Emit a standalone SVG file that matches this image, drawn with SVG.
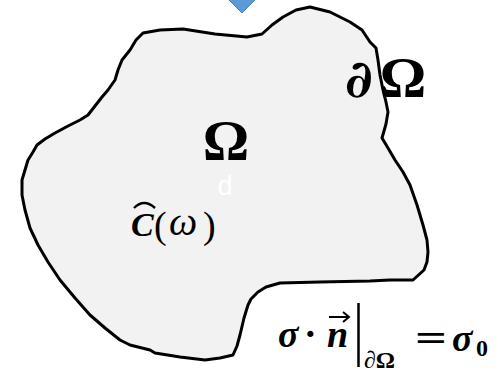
<svg xmlns="http://www.w3.org/2000/svg" width="498" height="373" viewBox="0 0 498 373">
<style>
.m{font-family:"Liberation Serif","DejaVu Serif",serif;fill:#000;font-weight:bold}
.d{font-family:"DejaVu Serif","Liberation Serif",serif;fill:#000;font-weight:bold}
.i{font-style:italic}
.p{font-family:"Liberation Serif","DejaVu Serif",serif;fill:#000}
</style>
<rect width="498" height="373" fill="#fff"/>
<g id="arrow-top"><polygon points="242,-15 256,-1 242,13 228,-1" fill="#5b9bd5" stroke="#4a86c0" stroke-width="1"/></g>
<g id="domain">
<path d="M143,33 L160,30 L183,29 L215,34 L247,37 L262,34 L272,25 L283,17 L296,10 L310,7 L330,12 L350,22 L362,30 L370,42 L376,48 L378,60 L380,75 L383,90 L386,102 L388,112 L386,124 L382,138 L388,148 L395,160 L403,172 L410,185 L417,205 L423,225 L427,240 L428,252 L427,262 L424,270 L413,280 L390,280 L370,281 L320,282 L280,283 L266,287 L258,292 L251,299 L248,305 L244,318 L240,335 L237,346 L233,355 L220,358 L205,360 L180,357 L155,353 L150,350 L130,345 L120,340 L105,328 L90,315 L75,298 L60,280 L48,262 L38,245 L30,228 L25,210 L22,195 L22,180 L25,170 L28,160 L33,152 L37,145 L45,139 L55,133 L68,126 L80,120 L88,115 L95,106 L102,97 L108,90 L115,80 L118,70 L122,60 L126,55 L130,50 L136,40 Z" fill="#f2f2f2" stroke="#000" stroke-width="3" stroke-linejoin="round"/>
</g>
<g id="labels">
<text class="m" x="226" y="160" font-size="58" text-anchor="middle">Ω</text>
<text class="d i" x="345" y="97" font-size="52">∂</text>
<text class="m" x="403" y="97" font-size="58" text-anchor="middle">Ω</text>
<text x="225" y="195" font-family="Liberation Sans,Arial,sans-serif" font-size="27" fill="#fff" text-anchor="middle">d</text>
<text class="m i" x="131" y="236" font-size="34">C</text>
<path d="M134,208 Q144,198 155,208" fill="none" stroke="#000" stroke-width="2.4"/>
<text class="p" x="154" y="238" font-size="38">(</text>
<text class="p" x="169" y="235" font-style="italic" font-size="40">ω</text>
<text class="p" x="203" y="238" font-size="38">)</text>
<text class="m i" x="278" y="347" font-size="38">σ</text>
<text class="m" x="304" y="347" font-size="38">·</text>
<text class="m i" x="327" y="347" font-size="38">n</text>
<path d="M329,317 L349,317" stroke="#000" stroke-width="2"/>
<path d="M343,312 L349,317 L343,322" fill="none" stroke="#000" stroke-width="2"/>
<line x1="358.5" y1="303" x2="358.5" y2="367" stroke="#000" stroke-width="2.5"/>
<text class="m" x="364" y="368" font-size="24">∂Ω</text>
<text class="m" x="415" y="351" font-size="38" textLength="32" lengthAdjust="spacingAndGlyphs">=</text>
<text class="m i" x="452" y="351" font-size="38">σ</text>
<text class="m" x="476" y="356" font-size="24">0</text>
</g>
</svg>
